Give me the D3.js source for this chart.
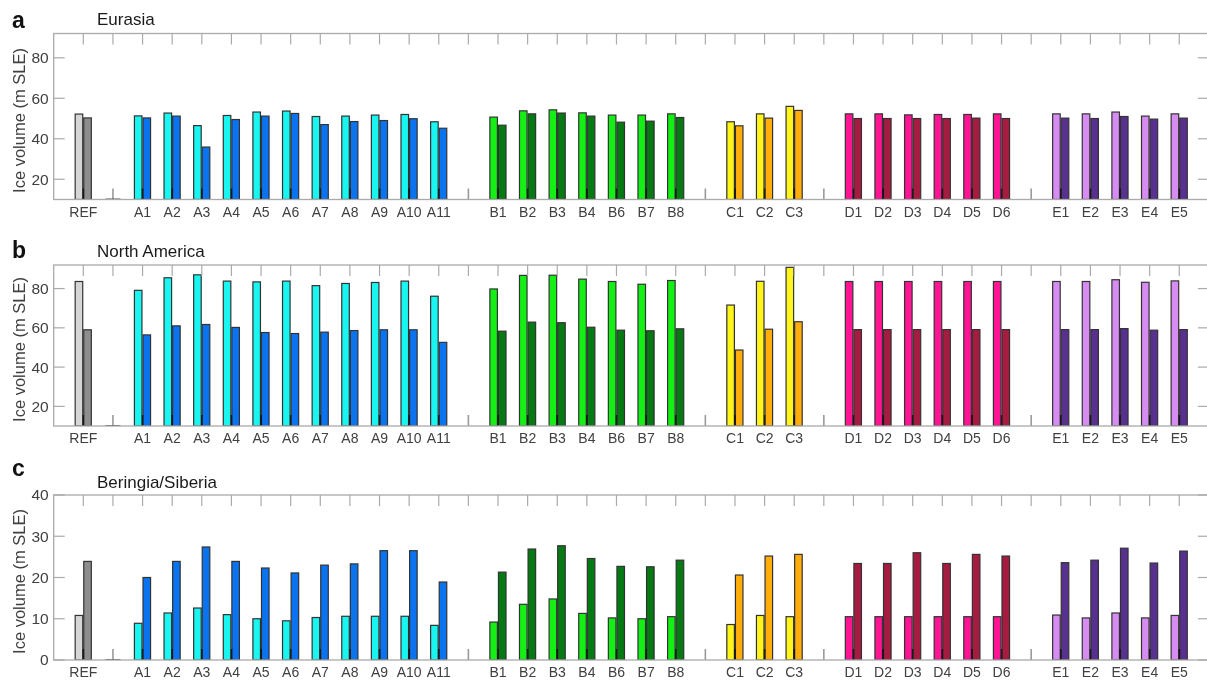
<!DOCTYPE html>
<html>
<head>
<meta charset="utf-8">
<script src="https://cdn.jsdelivr.net/npm/d3@7"></script>
<style>
  html, body { margin: 0; padding: 0; background: #fff; }
  svg { display: block; font-family: "Liberation Sans", Arial, sans-serif; }
</style>
</head>
<body>
<svg id="chart" width="1207" height="682"></svg>
<script>
// Experiment labels along the x axis; "" marks an empty slot between groups
const labels = ["REF", "",
  "A1", "A2", "A3", "A4", "A5", "A6", "A7", "A8", "A9", "A10", "A11", "",
  "B1", "B2", "B3", "B4", "B6", "B7", "B8", "",
  "C1", "C2", "C3", "",
  "D1", "D2", "D3", "D4", "D5", "D6", "",
  "E1", "E2", "E3", "E4", "E5"];

// Ice volume (m SLE), first (light) and second (dark) bar of each pair
const eurasiaLight = [52.2, null,
  51.3, 52.7, 46.5, 51.5, 53.2, 53.7, 51.0, 51.2, 51.7, 52.0, 48.4, null,
  50.7, 53.8, 54.3, 52.8, 51.7, 51.7, 52.3, null,
  48.4, 52.3, 56.0, null,
  52.3, 52.3, 51.8, 52.0, 52.0, 52.3, null,
  52.3, 52.3, 53.2, 51.2, 52.3];
const eurasiaDark = [50.3, null,
  50.3, 51.2, 35.9, 49.5, 51.2, 52.5, 47.0, 48.5, 49.0, 49.9, 45.2, null,
  46.7, 52.3, 52.7, 51.2, 48.2, 48.7, 50.5, null,
  46.4, 50.2, 54.0, null,
  50.0, 50.0, 50.0, 50.0, 50.2, 50.0, null,
  50.2, 50.0, 51.0, 49.7, 50.2];

const northAmericaLight = [83.6, null,
  79.1, 85.5, 87.0, 83.8, 83.4, 83.8, 81.5, 82.6, 83.1, 83.8, 76.1, null,
  79.8, 86.7, 86.8, 84.8, 83.6, 82.2, 84.1, null,
  71.6, 83.7, 90.8, null,
  83.6, 83.6, 83.6, 83.6, 83.6, 83.6, null,
  83.6, 83.6, 84.5, 83.2, 83.9];
const northAmericaDark = [59.0, null,
  56.4, 61.0, 61.7, 60.2, 57.6, 57.1, 57.8, 58.6, 59.0, 59.0, 52.6, null,
  58.3, 62.9, 62.6, 60.3, 58.8, 58.5, 59.5, null,
  48.7, 59.3, 63.1, null,
  59.1, 59.1, 59.1, 59.1, 59.1, 59.1, null,
  59.1, 59.1, 59.6, 58.8, 59.1];

const beringiaLight = [10.8, null,
  8.9, 11.4, 12.6, 11.0, 10.0, 9.5, 10.3, 10.6, 10.6, 10.6, 8.4, null,
  9.2, 13.5, 14.8, 11.3, 10.2, 10.0, 10.5, null,
  8.6, 10.8, 10.5, null,
  10.5, 10.5, 10.5, 10.5, 10.5, 10.5, null,
  10.9, 10.2, 11.4, 10.2, 10.8];
const beringiaDark = [23.9, null,
  20.0, 23.9, 27.4, 23.9, 22.3, 21.1, 23.0, 23.3, 26.5, 26.5, 18.9, null,
  21.3, 26.9, 27.7, 24.6, 22.7, 22.6, 24.2, null,
  20.6, 25.2, 25.6, null,
  23.4, 23.4, 26.0, 23.4, 25.6, 25.2, null,
  23.6, 24.2, 27.1, 23.5, 26.4];

// Y-axis tick values
const ticksAB = [20, 40, 60, 80];
const ticksC = [0, 10, 20, 30, 40];

// Fill colours per experiment family: [light, dark]
const familyColors = {
  R: ["#d6d6d6", "#8e8e8e"],
  A: ["#19f5f0", "#0a74f0"],
  B: ["#14f014", "#057a12"],
  C: ["#fff51a", "#ffad0a"],
  D: ["#ff1493", "#a51c40"],
  E: ["#d68cf2", "#58308f"]
};

const panels = [
  { letter: "a", title: "Eurasia", light: eurasiaLight, dark: eurasiaDark,
    domain: [10, 92], ticks: ticksAB, top: 33.5, bottom: 199.5,
    letterY: 28, titleY: 25 },
  { letter: "b", title: "North America", light: northAmericaLight, dark: northAmericaDark,
    domain: [10, 92], ticks: ticksAB, top: 265, bottom: 426,
    letterY: 258, titleY: 257 },
  { letter: "c", title: "Beringia/Siberia", light: beringiaLight, dark: beringiaDark,
    domain: [0, 40], ticks: ticksC, top: 495, bottom: 660,
    letterY: 476, titleY: 488 }
];

const svg = d3.select("#chart");
const left = 53.7, right = 1208.9;
const x = d3.scaleLinear().domain([0, labels.length + 1]).range([left, right]);
const step = x(2) - x(1);
const barW = step * 0.255;
const tickLen = 11;
const axisColor = "#aaaaaa";
const textColor = "#404040";

panels.forEach((p, pi) => {
  const y = d3.scaleLinear().domain(p.domain).range([p.bottom, p.top]);
  const g = svg.append("g");
  const clipId = "clip" + pi;
  svg.append("clipPath").attr("id", clipId)
    .append("rect").attr("x", left).attr("y", p.top)
    .attr("width", right - left).attr("height", p.bottom - p.top);

  const plot = g.append("g").attr("clip-path", `url(#${clipId})`);
  const base = y(p.domain[0]);

  labels.forEach((lab, i) => {
    const cx = x(i + 1);
    if (lab === "") return;
    const fam = familyColors[lab[0]];
    [[p.light[i], fam[0], cx - barW - step * 0.02], [p.dark[i], fam[1], cx + step * 0.015]]
      .forEach(([v, col, bx]) => {
        plot.append("rect")
          .attr("x", bx).attr("y", y(v))
          .attr("width", barW).attr("height", base - y(v))
          .attr("fill", col).attr("stroke", "#333").attr("stroke-width", 1.2);
      });
  });

  // flat empty pair in the first blank slot
  plot.append("line")
    .attr("x1", x(2) - barW).attr("x2", x(2) + barW)
    .attr("y1", base - 0.5).attr("y2", base - 0.5)
    .attr("stroke", "#555").attr("stroke-width", 1);

  // x ticks: top (downward) and bottom (upward)
  labels.forEach((lab, i) => {
    const cx = x(i + 1);
    g.append("line").attr("x1", cx).attr("x2", cx)
      .attr("y1", p.top).attr("y2", p.top + tickLen)
      .attr("stroke", axisColor).attr("stroke-width", 1.2);
    g.append("line").attr("x1", cx).attr("x2", cx)
      .attr("y1", p.bottom).attr("y2", p.bottom - tickLen)
      .attr("stroke", lab === "" ? "#9a9a9a" : "#555").attr("stroke-width", 1.6)
      .style("mix-blend-mode", "multiply");
  });

  // y ticks on both sides
  p.ticks.forEach(t => {
    g.append("line").attr("x1", left).attr("x2", left + tickLen)
      .attr("y1", y(t)).attr("y2", y(t)).attr("stroke", axisColor).attr("stroke-width", 1.2);
    g.append("line").attr("x1", right).attr("x2", right - tickLen)
      .attr("y1", y(t)).attr("y2", y(t)).attr("stroke", axisColor).attr("stroke-width", 1.2);
  });

  // axes box
  g.append("rect").attr("x", left).attr("y", p.top)
    .attr("width", right - left).attr("height", p.bottom - p.top)
    .attr("fill", "none").attr("stroke", axisColor).attr("stroke-width", 1.3);

  // y tick labels
  g.selectAll(".ytl").data(p.ticks).enter().append("text")
    .attr("x", left - 5).attr("y", d => y(d))
    .attr("dy", "0.35em").attr("text-anchor", "end")
    .attr("font-size", 15.5).attr("fill", textColor)
    .text(d => d);

  // x tick labels
  labels.forEach((lab, i) => {
    if (lab === "") return;
    g.append("text").attr("x", x(i + 1)).attr("y", p.bottom + 17)
      .attr("text-anchor", "middle").attr("font-size", 14)
      .attr("fill", textColor).text(lab);
  });

  // y axis title
  const midY = (p.top + p.bottom) / 2 + 4;
  g.append("text")
    .attr("transform", `translate(25,${midY}) rotate(-90)`)
    .attr("text-anchor", "middle").attr("font-size", 16.5)
    .attr("fill", textColor).text("Ice volume (m SLE)");

  // panel letter and region title
  g.append("text").attr("x", 12).attr("y", p.letterY)
    .attr("font-size", 23).attr("font-weight", "bold").attr("fill", "#111")
    .text(p.letter);
  g.append("text").attr("x", 97).attr("y", p.titleY)
    .attr("font-size", 17).attr("fill", "#1a1a1a").text(p.title);
});
</script>
</body>
</html>
